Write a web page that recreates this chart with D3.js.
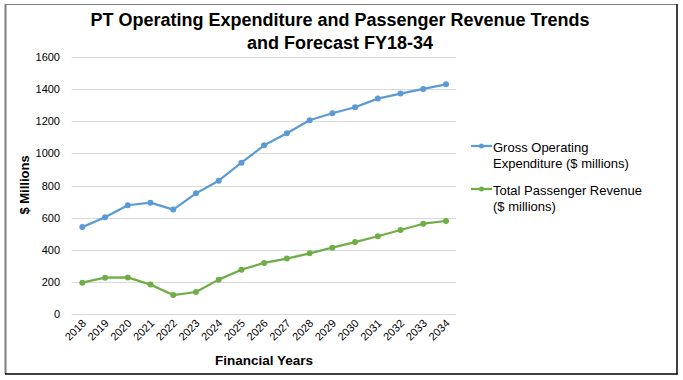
<!DOCTYPE html>
<html><head><meta charset="utf-8">
<script src="https://cdn.jsdelivr.net/npm/d3@7/dist/d3.min.js"></script>
<style>body{margin:0;background:#fff}svg{display:block;font-family:"Liberation Sans",Arial,sans-serif}</style>
</head><body><svg id="c" width="683" height="380"></svg>
<script>
const years = ["2018","2019","2020","2021","2022","2023","2024","2025","2026","2027","2028","2029","2030","2031","2032","2033","2034"];
const grossExpenditure = [541,602,677,693,650,751,830,942,1050,1125,1206,1250,1287,1341,1372,1401,1430];
const passengerRevenue = [195,226,228,183,118,137,214,276,318,345,378,413,448,484,523,562,579];
const yTicks = [0,200,400,600,800,1000,1200,1400,1600];
const seriesNames = [["Gross Operating","Expenditure ($ millions)"],["Total Passenger Revenue","($ millions)"]];
const colors = ["#5B9BD5","#70AD47"];

const svg = d3.select("#c");
// frame
svg.append("line").attr("x1",5).attr("y1",4.5).attr("x2",677).attr("y2",4.5).attr("stroke","#7f7f7f").attr("stroke-width",1);
svg.append("line").attr("x1",5.5).attr("y1",4).attr("x2",5.5).attr("y2",374).attr("stroke","#7f7f7f").attr("stroke-width",2);
svg.append("line").attr("x1",677).attr("y1",4).attr("x2",677).attr("y2",374.5).attr("stroke","#000").attr("stroke-width",1.5);
svg.append("line").attr("x1",5).attr("y1",374).attr("x2",677.5).attr("y2",374).attr("stroke","#000").attr("stroke-width",1.5);

const x = d3.scalePoint().domain(years).range([82.3,446]);
const y = d3.scaleLinear().domain([0,1600]).range([314,57]);
const left = 71.7, right = 456;

// grid
svg.append("g").selectAll("line").data(yTicks).join("line")
  .attr("x1",left).attr("x2",right).attr("y1",d=>Math.round(y(d))+0.5).attr("y2",d=>Math.round(y(d))+0.5)
  .attr("stroke","#d9d9d9").attr("stroke-width",1);

// y axis labels
const yAxis = d3.axisLeft(y).tickValues(yTicks).tickFormat(d3.format("d")).tickSize(0).tickPadding(0);
const gy = svg.append("g").attr("transform",`translate(60,0)`).call(yAxis);
gy.select(".domain").remove();
gy.selectAll("text").attr("font-size",11).attr("fill","#000").attr("font-family","Liberation Sans, Arial, sans-serif");

// x axis labels
const xAxis = d3.axisBottom(x).tickSize(0).tickPadding(0);
const gx = svg.append("g").attr("transform",`translate(0,${y(0)})`).call(xAxis);
gx.select(".domain").remove();
gx.selectAll("text").attr("font-size",11).attr("fill","#000").attr("font-family","Liberation Sans, Arial, sans-serif")
  .attr("text-anchor","end").attr("dy",0).attr("y",0)
  .attr("transform","translate(4,10) rotate(-45)");

// lines
const line = d3.line().x((d,i)=>x(years[i])).y(d=>y(d));
[grossExpenditure,passengerRevenue].forEach((s,k)=>{
  svg.append("path").datum(s).attr("d",line).attr("fill","none").attr("stroke",colors[k]).attr("stroke-width",2.25).attr("stroke-linejoin","round");
  svg.append("g").selectAll("circle").data(s).join("circle")
    .attr("cx",(d,i)=>x(years[i])).attr("cy",d=>y(d)).attr("r",3).attr("fill",colors[k]);
});

// title
svg.append("text").attr("x",340).attr("y",26).attr("text-anchor","middle").attr("font-weight","bold").attr("font-size",18).text("PT Operating Expenditure and Passenger Revenue Trends");
svg.append("text").attr("x",340).attr("y",49).attr("text-anchor","middle").attr("font-weight","bold").attr("font-size",18).text("and Forecast FY18-34");

// axis titles
svg.append("text").attr("transform","translate(29,185) rotate(-90)").attr("text-anchor","middle").attr("font-weight","bold").attr("font-size",13).text("$ Millions");
svg.append("text").attr("x",264).attr("y",365).attr("text-anchor","middle").attr("font-weight","bold").attr("font-size",13.5).text("Financial Years");

// legend
const ly = [146, 189];
seriesNames.forEach((n,k)=>{
  const g = svg.append("g");
  g.append("line").attr("x1",471).attr("x2",492).attr("y1",ly[k]).attr("y2",ly[k]).attr("stroke",colors[k]).attr("stroke-width",2.25);
  g.append("circle").attr("cx",481.5).attr("cy",ly[k]).attr("r",2.5).attr("fill",colors[k]);
  n.forEach((t,j)=>{
    g.append("text").attr("x",493).attr("y",ly[k]+5.5+j*16).attr("font-size",13).attr("fill","#000").text(t);
  });
});
</script></body></html>
